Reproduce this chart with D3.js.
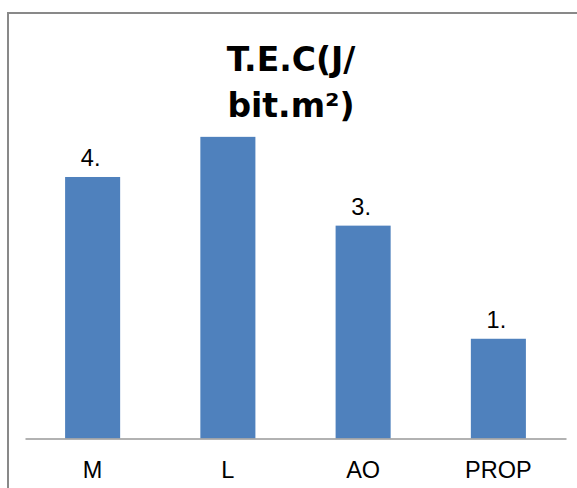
<!DOCTYPE html>
<html>
<head>
<meta charset="utf-8">
<script src="https://cdn.jsdelivr.net/npm/d3@7"></script>
<style>
  html, body { margin: 0; padding: 0; background: #fff; }
  svg { display: block; }
</style>
</head>
<body>
<svg id="chart" width="577" height="488"></svg>
<script>
const categories = ["M", "L", "AO", "PROP"];
const values = [4.3, 4.96, 3.5, 1.64];
const dataLabels = ["4.", "", "3.", "1."];
const titleLines = ["T.E.C(J/", "bit.m²)"];

const svg = d3.select("#chart");
const W = 577, H = 488;

// outer chart border
svg.append("rect")
  .attr("x", 8).attr("y", 13)
  .attr("width", W + 20).attr("height", H + 20)
  .attr("fill", "#fff")
  .attr("stroke", "#898989").attr("stroke-width", 2);

const x = d3.scaleBand()
  .domain(categories)
  .range([25, 566])
  .paddingInner(0.593)
  .paddingOuter(0.2965);

const y = d3.scaleLinear()
  .domain([0, 6])
  .range([438.5, 73.6]);

const labelFont = "'Liberation Sans Narrow', 'Liberation Sans', Arial, sans-serif";

// bars
svg.append("g").selectAll("rect")
  .data(categories)
  .join("rect")
  .attr("x", d => x(d))
  .attr("width", x.bandwidth())
  .attr("y", (d, i) => y(values[i]))
  .attr("height", (d, i) => y(0) - y(values[i]))
  .attr("fill", "#4F81BD");

// category axis
const axis = svg.append("g")
  .attr("transform", `translate(0,${y(0)})`)
  .call(d3.axisBottom(x).tickSize(0).tickPadding(23));
axis.select(".domain").attr("stroke", "#999").attr("stroke-width", 1.5);
axis.selectAll("text")
  .attr("font-family", labelFont)
  .attr("font-size", 23.5)
  .attr("fill", "#000");

// data labels
svg.append("g").selectAll("text")
  .data(categories)
  .join("text")
  .attr("x", d => x(d) + x.bandwidth() / 2 - 2)
  .attr("y", (d, i) => y(values[i]) - 11)
  .attr("text-anchor", "middle")
  .attr("font-family", labelFont)
  .attr("font-size", 23.5)
  .attr("fill", "#000")
  .text((d, i) => dataLabels[i]);

// title
const title = svg.append("text")
  .attr("x", 291)
  .attr("y", 71)
  .attr("text-anchor", "middle")
  .attr("font-family", "'DejaVu Sans', sans-serif")
  .attr("font-weight", "bold")
  .attr("font-size", 33)
  .attr("fill", "#000");
title.selectAll("tspan")
  .data(titleLines)
  .join("tspan")
  .attr("x", 291)
  .attr("dy", (d, i) => i === 0 ? 0 : 46)
  .text(d => d);
</script>
</body>
</html>
